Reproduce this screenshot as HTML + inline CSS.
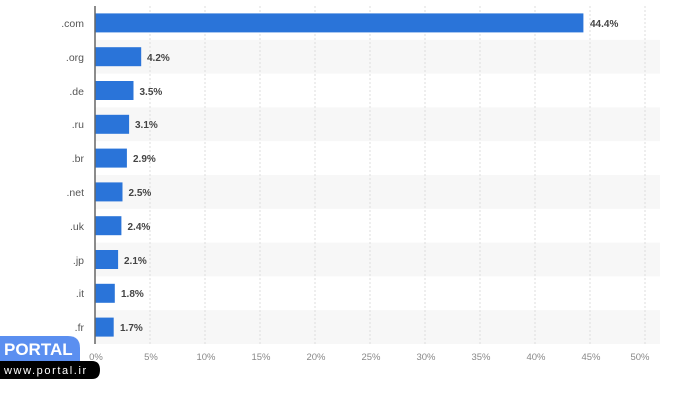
<!DOCTYPE html>
<html><head><style>
body{margin:0;width:700px;height:400px;background:#fff;font-family:"Liberation Sans",sans-serif;overflow:hidden;position:relative}
</style></head><body>
<svg width="700" height="400" style="position:absolute;left:0;top:0" font-family="Liberation Sans, sans-serif">
<g fill="#f7f7f7">
<rect x="95" y="39.8" width="565" height="33.8"/>
<rect x="95" y="107.4" width="565" height="33.8"/>
<rect x="95" y="175" width="565" height="33.8"/>
<rect x="95" y="242.6" width="565" height="33.8"/>
<rect x="95" y="310.2" width="565" height="33.8"/>
</g>
<g stroke="#ddd" stroke-dasharray="2,2">
<line x1="150" y1="6" x2="150" y2="345"/><line x1="205" y1="6" x2="205" y2="345"/>
<line x1="260" y1="6" x2="260" y2="345"/><line x1="315" y1="6" x2="315" y2="345"/>
<line x1="370" y1="6" x2="370" y2="345"/><line x1="425" y1="6" x2="425" y2="345"/>
<line x1="480" y1="6" x2="480" y2="345"/><line x1="535" y1="6" x2="535" y2="345"/>
<line x1="590" y1="6" x2="590" y2="345"/><line x1="645" y1="6" x2="645" y2="345"/>
</g>
<g font-size="9.5" fill="#888" text-anchor="middle">
<text x="96" y="360">0%</text><text x="151" y="360">5%</text><text x="206" y="360">10%</text>
<text x="261" y="360">15%</text><text x="316" y="360">20%</text><text x="371" y="360">25%</text>
<text x="426" y="360">30%</text><text x="481" y="360">35%</text><text x="536" y="360">40%</text>
<text x="591" y="360">45%</text><text x="640" y="360">50%</text>
</g>
<g fill="#2a74d9">
<rect x="95" y="13.4" width="488.4" height="19"/>
<rect x="95" y="47.2" width="46.2" height="19"/>
<rect x="95" y="81" width="38.5" height="19"/>
<rect x="95" y="114.8" width="34.1" height="19"/>
<rect x="95" y="148.6" width="31.9" height="19"/>
<rect x="95" y="182.4" width="27.5" height="19"/>
<rect x="95" y="216.2" width="26.4" height="19"/>
<rect x="95" y="250" width="23.1" height="19"/>
<rect x="95" y="283.8" width="19.8" height="19"/>
<rect x="95" y="317.6" width="18.7" height="19"/>
</g>
<g font-size="10.5" fill="#555" text-anchor="end">
<text x="84" y="27">.com</text><text x="84" y="61">.org</text><text x="84" y="95">.de</text>
<text x="84" y="128">.ru</text><text x="84" y="162">.br</text><text x="84" y="196">.net</text>
<text x="84" y="230">.uk</text><text x="84" y="264">.jp</text><text x="84" y="297">.it</text>
<text x="84" y="331">.fr</text>
</g>
<g font-size="10" font-weight="bold" fill="#444">
<text x="590" y="27">44.4%</text><text x="147" y="61">4.2%</text><text x="139.5" y="95">3.5%</text>
<text x="135" y="128">3.1%</text><text x="133" y="162">2.9%</text><text x="128.5" y="196">2.5%</text>
<text x="127.5" y="230">2.4%</text><text x="124" y="264">2.1%</text><text x="121" y="297">1.8%</text>
<text x="120" y="331">1.7%</text>
</g>
<line x1="95" y1="6" x2="95" y2="344" stroke="#666" stroke-width="1.5"/>
<path d="M0 336 H68 Q80 336 80 348 V361 H0 Z" fill="#5b8ff0"/>
<text x="4" y="355" font-size="17" font-weight="bold" fill="#fff">PORTAL</text>
<path d="M0 361 H92 Q100 361 100 370 Q100 379 92 379 H0 Z" fill="#000"/>
<text x="4" y="374" font-size="11" fill="#fff" letter-spacing="1.6">www.portal.ir</text>
</svg>
</body></html>
